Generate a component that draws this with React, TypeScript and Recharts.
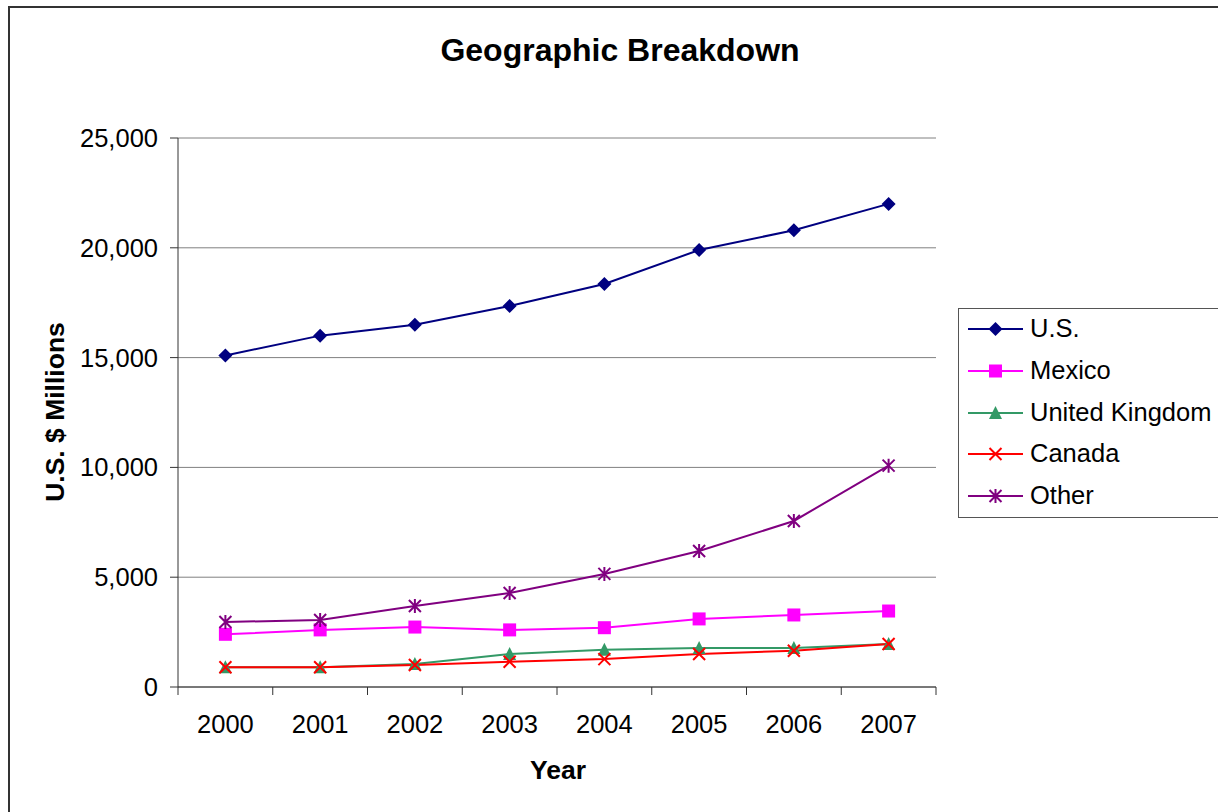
import React from 'react';
import { LineChart, Line, XAxis, YAxis, CartesianGrid } from 'recharts';

const years = ['2000', '2001', '2002', '2003', '2004', '2005', '2006', '2007'];
const us = [15100, 16000, 16500, 17350, 18350, 19900, 20800, 22000];
const mexico = [2400, 2600, 2730, 2600, 2700, 3100, 3280, 3460];
const uk = [900, 900, 1050, 1500, 1700, 1780, 1780, 1960];
const canada = [900, 900, 1000, 1150, 1270, 1500, 1650, 1960];
const other = [2960, 3050, 3690, 4280, 5150, 6190, 7560, 10080];
const yTicks = [0, 5000, 10000, 15000, 20000, 25000];
// category boundaries (between the years) for the tick marks
const edgeTicks = [-0.5, 0.5, 1.5, 2.5, 3.5, 4.5, 5.5, 6.5, 7.5];

const data = years.map((year, i) => ({
  year,
  idx: i,
  us: us[i],
  mexico: mexico[i],
  uk: uk[i],
  canada: canada[i],
  other: other[i],
}));

const FONT = '"Liberation Sans", Arial, sans-serif';

type Shape = 'diamond' | 'square' | 'triangle' | 'x' | 'star';

const series: { key: string; name: string; color: string; shape: Shape }[] = [
  { key: 'us', name: 'U.S.', color: '#000080', shape: 'diamond' },
  { key: 'mexico', name: 'Mexico', color: '#FF00FF', shape: 'square' },
  { key: 'uk', name: 'United Kingdom', color: '#339966', shape: 'triangle' },
  { key: 'canada', name: 'Canada', color: '#FF0000', shape: 'x' },
  { key: 'other', name: 'Other', color: '#800080', shape: 'star' },
];

function Marker({ cx, cy, color, shape }: { cx: number; cy: number; color: string; shape: Shape }) {
  if (cx == null || cy == null) return null;
  switch (shape) {
    case 'diamond':
      return <path d={`M${cx} ${cy - 7}L${cx + 7} ${cy}L${cx} ${cy + 7}L${cx - 7} ${cy}Z`} fill={color} />;
    case 'square':
      return <rect x={cx - 6.5} y={cy - 6.5} width={13} height={13} fill={color} />;
    case 'triangle':
      return <path d={`M${cx} ${cy - 7}L${cx + 6.5} ${cy + 6}L${cx - 6.5} ${cy + 6}Z`} fill={color} />;
    case 'x':
      return (
        <path d={`M${cx - 6} ${cy - 6}L${cx + 6} ${cy + 6}M${cx + 6} ${cy - 6}L${cx - 6} ${cy + 6}`} stroke={color} strokeWidth={2} />
      );
    default:
      return (
        <path
          d={`M${cx} ${cy - 7}L${cx} ${cy + 7}M${cx - 6} ${cy - 6}L${cx + 6} ${cy + 6}M${cx + 6} ${cy - 6}L${cx - 6} ${cy + 6}`}
          stroke={color}
          strokeWidth={2}
        />
      );
  }
}

function LegendBox() {
  return (
    <div
      style={{
        position: 'absolute',
        left: 958,
        top: 308,
        border: '1px solid #555',
        background: '#fff',
        width: 270,
        height: 210,
        boxSizing: 'border-box',
        fontFamily: FONT,
        fontSize: 25.5,
        color: '#000',
      }}
    >
      {series.map((s, i) => (
        <div key={s.key} style={{ position: 'absolute', left: 0, top: i * 41.8, height: 40, width: 270 }}>
          <svg width={70} height={40} style={{ position: 'absolute', left: 0, top: 0 }}>
            <line x1={9} x2={64} y1={20} y2={20} stroke={s.color} strokeWidth={2} />
            <Marker cx={36.5} cy={20} color={s.color} shape={s.shape} />
          </svg>
          <span style={{ position: 'absolute', left: 71, top: 20, transform: 'translateY(-50%)', lineHeight: 1, whiteSpace: 'nowrap' }}>
            {s.name}
          </span>
        </div>
      ))}
    </div>
  );
}

export default function App() {
  return (
    <div style={{ position: 'absolute', left: 0, top: 0, width: 1218, height: 812, overflow: 'hidden', background: '#fff' }}>
      <div
        style={{ position: 'absolute', left: 8, top: 6, width: 1300, height: 900, border: '2px solid #333', boxSizing: 'border-box' }}
      />
      <div
        style={{
          position: 'absolute',
          left: 0,
          width: 1240,
          top: 31,
          textAlign: 'center',
          fontFamily: FONT,
          fontWeight: 'bold',
          fontSize: 32,
          lineHeight: '38px',
        }}
      >
        Geographic Breakdown
      </div>
      <div
        style={{
          position: 'absolute',
          left: 55,
          top: 412,
          transform: 'translate(-50%, -50%) rotate(-90deg)',
          fontFamily: FONT,
          fontWeight: 'bold',
          fontSize: 26.5,
          whiteSpace: 'nowrap',
          lineHeight: 1,
        }}
      >
        U.S. $ Millions
      </div>
      <div
        style={{
          position: 'absolute',
          left: 558,
          top: 770,
          transform: 'translate(-50%, -50%)',
          fontFamily: FONT,
          fontWeight: 'bold',
          fontSize: 26.5,
          lineHeight: 1,
        }}
      >
        Year
      </div>
      <div style={{ position: 'absolute', left: 0, top: 0 }}>
        <LineChart width={1218} height={812} data={data} margin={{ top: 138, right: 282, left: 88, bottom: 55 }}>
          <CartesianGrid xAxisId="b_cat" yAxisId="left" vertical={false} stroke="#808080" strokeWidth={1} />
          <XAxis
            xAxisId="a_edge"
            type="number"
            dataKey="idx"
            domain={[-0.5, 7.5]}
            allowDataOverflow
            ticks={edgeTicks}
            tick={() => <g />}
            tickSize={8}
            height={10}
            axisLine={{ stroke: '#333' }}
            tickLine={{ stroke: '#333' }}
          />
          <XAxis
            xAxisId="b_cat"
            dataKey="year"
            padding={{ left: 47.4, right: 47.4 }}
            axisLine={false}
            tickLine={false}
            tickSize={0}
            tickMargin={18}
            height={60}
            tick={{ fill: '#000', fontSize: 25.5, fontFamily: FONT }}
            interval={0}
          />
          <YAxis
            yAxisId="left"
            width={90}
            domain={[0, 25000]}
            ticks={yTicks}
            tickSize={8}
            tickMargin={12}
            axisLine={{ stroke: '#333' }}
            tickLine={{ stroke: '#333' }}
            tick={{ fill: '#000', fontSize: 25.5, fontFamily: FONT }}
            tickFormatter={(v: number) => v.toLocaleString('en-US')}
          />
          <YAxis yAxisId="right" orientation="right" width={0} tick={false} tickLine={false} axisLine={{ stroke: '#808080' }} />
          {series.map((s) => (
            <Line
              key={s.key}
              xAxisId="b_cat"
              yAxisId="left"
              dataKey={s.key}
              name={s.name}
              stroke={s.color}
              strokeWidth={2}
              isAnimationActive={false}
              dot={(p: any) => <Marker key={`${s.key}-${p.index}`} cx={p.cx} cy={p.cy} color={s.color} shape={s.shape} />}
              activeDot={false}
            />
          ))}
        </LineChart>
      </div>
      <LegendBox />
    </div>
  );
}
